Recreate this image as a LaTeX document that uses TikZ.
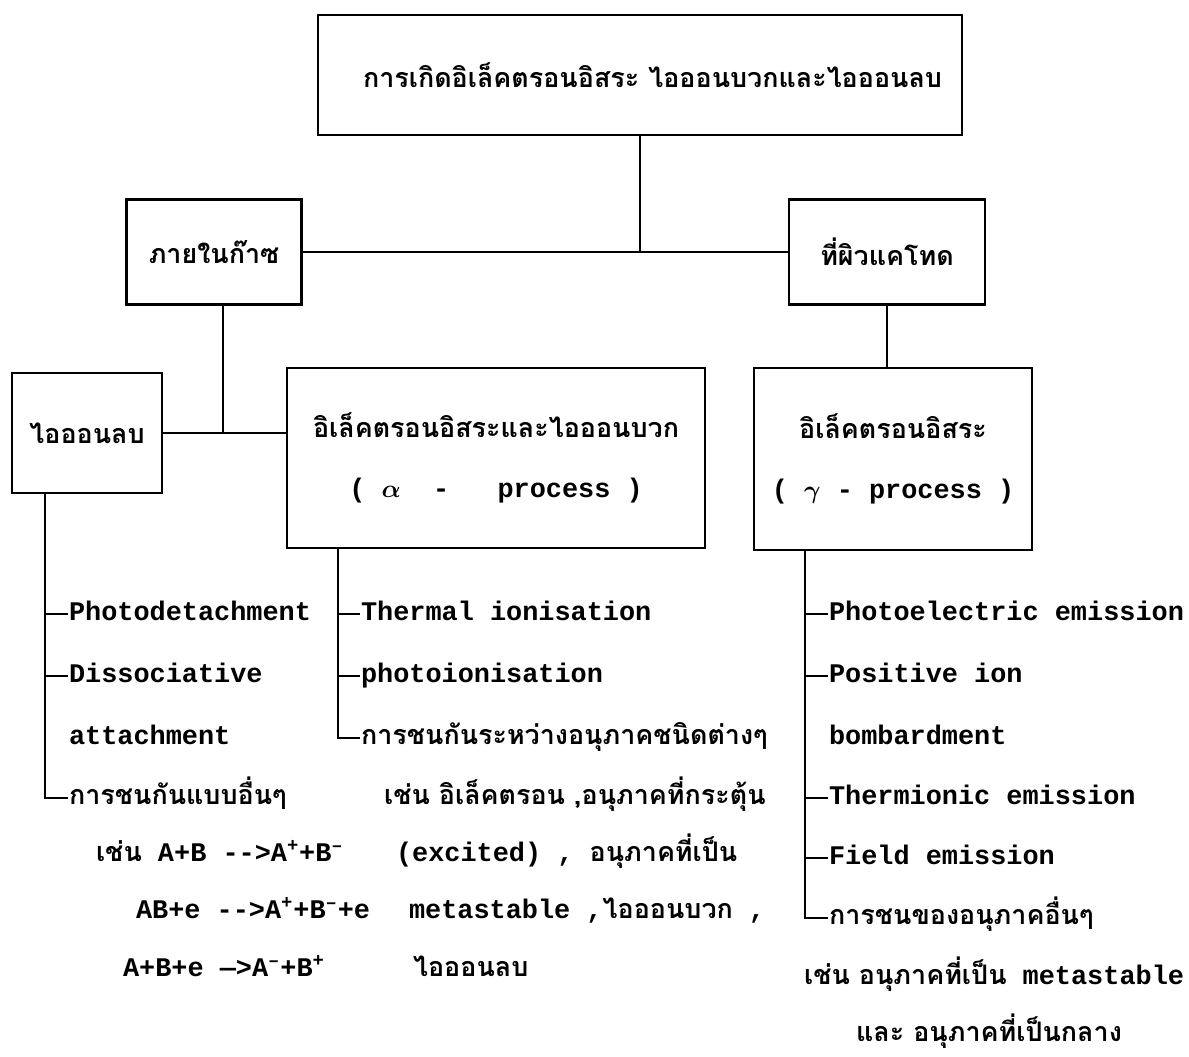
\documentclass[tikz,border=0pt]{standalone}
\usepackage{fontspec}
\usepackage{bm}
\setmainfont{Liberation Mono}
\newfontfamily\thfont[Script=Thai]{Loma}
\usetikzlibrary{positioning}
\tikzstyle{block} = [draw, rectangle, align=center, inner sep=2pt]
\tikzstyle{item} = [anchor=west, inner sep=0pt, text height=10pt, text depth=3pt]

\begin{document}
\begin{tikzpicture}[x=0.02cm,y=-0.02cm,line width=1.2pt,font=\bfseries\fontsize{15.3}{18}\selectfont]
  \useasboundingbox (0,0) rectangle (1189,1056);
  \node[block, minimum width=12.88cm, minimum height=2.4cm] (top) at (640,75) {\hspace{0.5cm}\thfont การเกิดอิเล็คตรอนอิสระ ไอออนบวกและไอออนลบ};
  \node[block, minimum width=3.5cm, minimum height=2.1cm] (gas) at (214,252) {\thfont ภายในก๊าซ};
  \node[block, minimum width=3.92cm, minimum height=2.1cm] (cathode) at (887,252) {\thfont ที่ผิวแคโทด};
  \node[block, minimum width=3cm, minimum height=2.4cm] (neg) at (87,433) {\thfont ไอออนลบ};
  \node[block, minimum width=8.36cm, minimum height=3.6cm] (ionpos) at (496,458) {{\thfont อิเล็คตรอนอิสระและไอออนบวก}\\[16pt]( $\bm{\alpha}$ ~- ~~process )};
  \node[block, minimum width=5.56cm, minimum height=3.64cm] (free) at (893,459) {{\thfont อิเล็คตรอนอิสระ}\\[16pt]( $\bm{\gamma}$ - process )};

  \node[item] (n1) at (68,614) {Photodetachment};
  \node[item] (n2) at (68,676) {Dissociative};
  \node[item] (n2b) at (68,738) {attachment};
  \node[item] (n3) at (68,798) {\thfont การชนกันแบบอื่นๆ};
  \node[item] (eq1) at (95,855) {{\thfont เช่น} A+B -{}->A\textsuperscript{+}+B\textsuperscript{–}};
  \node[item] (eq2) at (135,912) {AB+e -{}->A\textsuperscript{+}+B\textsuperscript{–}+e};
  \node[item] (eq3) at (122,970) {A+B+e —>A\textsuperscript{–}+B\textsuperscript{+}};

  \node[item] (p1) at (360,614) {Thermal ionisation};
  \node[item] (p2) at (360,676) {photoionisation};
  \node[item] (p3) at (360,738) {\thfont การชนกันระหว่างอนุภาคชนิดต่างๆ};
  \node[item] (p4) at (383,798) {{\thfont เช่น อิเล็คตรอน ,อนุภาคที่กระตุ้น}};
  \node[item] (p5) at (395,855) {(excited) , {\thfont อนุภาคที่เป็น}};
  \node[item] (p6) at (408,912) {metastable ,{\thfont ไอออนบวก} ,};
  \node[item] (p7) at (412,970) {\thfont ไอออนลบ};

  \node[item] (c1) at (828,614) {Photoelectric emission};
  \node[item] (c2) at (828,676) {Positive ion};
  \node[item] (c2b) at (828,738) {bombardment};
  \node[item] (c3) at (828,798) {Thermionic emission};
  \node[item] (c4) at (828,858) {Field emission};
  \node[item] (c5) at (828,918) {\thfont การชนของอนุภาคอื่นๆ};
  \node[item] (c6) at (803,978) {{\thfont เช่น อนุภาคที่เป็น} metastable};
  \node[item] (c7) at (855,1035) {\thfont และ อนุภาคที่เป็นกลาง};

  \coordinate (gasdrop) at (223,0);
  \coordinate (ntrunk) at (45,0);
  \coordinate (ptrunk) at (338,0);
  \coordinate (ctrunk) at (805,0);

  \draw (top.south) -- (top.south |- gas.east);
  \draw (gas.east) -- (cathode.west);
  \draw (gasdrop |- gas.south) -- (gasdrop |- neg.east);
  \draw (neg.east) -- (neg.east -| ionpos.west);
  \draw (cathode.south) -- (cathode.south |- free.north);

  \draw (ntrunk |- neg.south) |- (n3.west);
  \draw (ptrunk |- ionpos.south) |- (p3.west);
  \draw (ctrunk |- free.south) |- (c5.west);
  \draw (ntrunk |- n1.west) -- (n1.west);
  \draw (ntrunk |- n2.west) -- (n2.west);
  \draw (ptrunk |- p1.west) -- (p1.west);
  \draw (ptrunk |- p2.west) -- (p2.west);
  \draw (ctrunk |- c1.west) -- (c1.west);
  \draw (ctrunk |- c2.west) -- (c2.west);
  \draw (ctrunk |- c3.west) -- (c3.west);
  \draw (ctrunk |- c4.west) -- (c4.west);
\end{tikzpicture}
\end{document}
